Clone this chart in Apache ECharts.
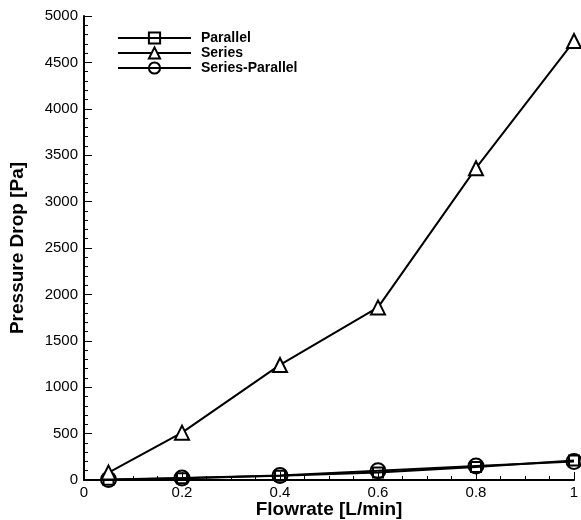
<!DOCTYPE html>
<html>
<head>
<meta charset="utf-8">
<script src="https://cdn.jsdelivr.net/npm/echarts@6/dist/echarts.min.js"></script>
<style>
  html, body { margin: 0; padding: 0; background: #fff; }
  #chart { width: 581px; height: 520px; }
</style>
</head>
<body>
<div id="chart"></div>
<script>
// Flowrate [L/min] at each measurement
var flowrate = [0.05, 0.2, 0.4, 0.6, 0.8, 1.0];

// Pressure drop [Pa] for each channel arrangement
var parallelDrop = [3, 18, 45, 82, 140, 210];
var seriesDrop = [80, 510, 1240, 1860, 3360, 4730];
var seriesParallelDrop = [5, 22, 48, 100, 152, 200];

var FONT = '"Liberation Sans", Arial, sans-serif';

function pairs(xs, ys) {
  return xs.map(function (x, i) { return [x, ys[i]]; });
}

function makeSeries(name, values, symbol, size, fill) {
  return {
    name: name,
    type: 'line',
    data: pairs(flowrate, values),
    symbol: symbol,
    symbolSize: size,
    showAllSymbol: true,
    clip: false,
    lineStyle: { color: '#000', width: 2 },
    itemStyle: { color: fill, borderColor: '#000', borderWidth: 2 },
    emphasis: { disabled: true }
  };
}

var chart = echarts.init(document.getElementById('chart'), null, { renderer: 'canvas' });

chart.setOption({
  animation: false,
  backgroundColor: '#fff',
  grid: { left: 84, right: 7, top: 16, bottom: 40, outerBoundsMode: 'none', containLabel: false },
  legend: {
    left: 112,
    top: 26,
    orient: 'vertical',
    itemWidth: 73,
    itemHeight: 14,
    itemGap: 1,
    textStyle: { fontFamily: FONT, fontWeight: 'bold', fontSize: 14, color: '#000', padding: [0, 0, 0, 5] },
    data: ['Parallel', 'Series', 'Series-Parallel']
  },
  xAxis: {
    type: 'value',
    min: 0,
    max: 1,
    interval: 0.2,
    name: 'Flowrate [L/min]',
    nameLocation: 'middle',
    nameGap: 20,
    nameMoveOverlap: false,
    nameTextStyle: { fontFamily: FONT, fontWeight: 'bold', fontSize: 19, color: '#000' },
    axisLine: { lineStyle: { color: '#000', width: 2 } },
    axisTick: { inside: true, length: 8, lineStyle: { color: '#000', width: 1 } },
    minorTick: { show: true, splitNumber: 4, length: 4, lineStyle: { color: '#000', width: 1 } },
    splitLine: { show: false },
    axisLabel: {
      fontFamily: FONT, fontSize: 15, color: '#000', margin: 5,
      formatter: function (v) { return String(+v.toFixed(1)); }
    }
  },
  yAxis: {
    type: 'value',
    min: 0,
    max: 5000,
    interval: 500,
    name: 'Pressure Drop [Pa]',
    nameLocation: 'middle',
    nameGap: 57,
    nameMoveOverlap: false,
    nameRotate: 90,
    nameTextStyle: { fontFamily: FONT, fontWeight: 'bold', fontSize: 19, color: '#000' },
    axisLine: { show: true, lineStyle: { color: '#000', width: 2 } },
    axisTick: { show: true, inside: true, length: 8, lineStyle: { color: '#000', width: 1 } },
    minorTick: { show: true, splitNumber: 5, length: 4, lineStyle: { color: '#000', width: 1 } },
    splitLine: { show: false },
    axisLabel: {
      fontFamily: FONT, fontSize: 15, color: '#000', margin: 6,
      formatter: function (v) { return String(v); }
    }
  },
  series: [
    makeSeries('Series-Parallel', seriesParallelDrop, 'circle', 15, 'rgba(255,255,255,0)'),
    makeSeries('Parallel', parallelDrop, 'rect', 10, 'rgba(255,255,255,0)'),
    makeSeries('Series', seriesDrop, 'triangle', 14, '#fff')
  ]
});
</script>
</body>
</html>
